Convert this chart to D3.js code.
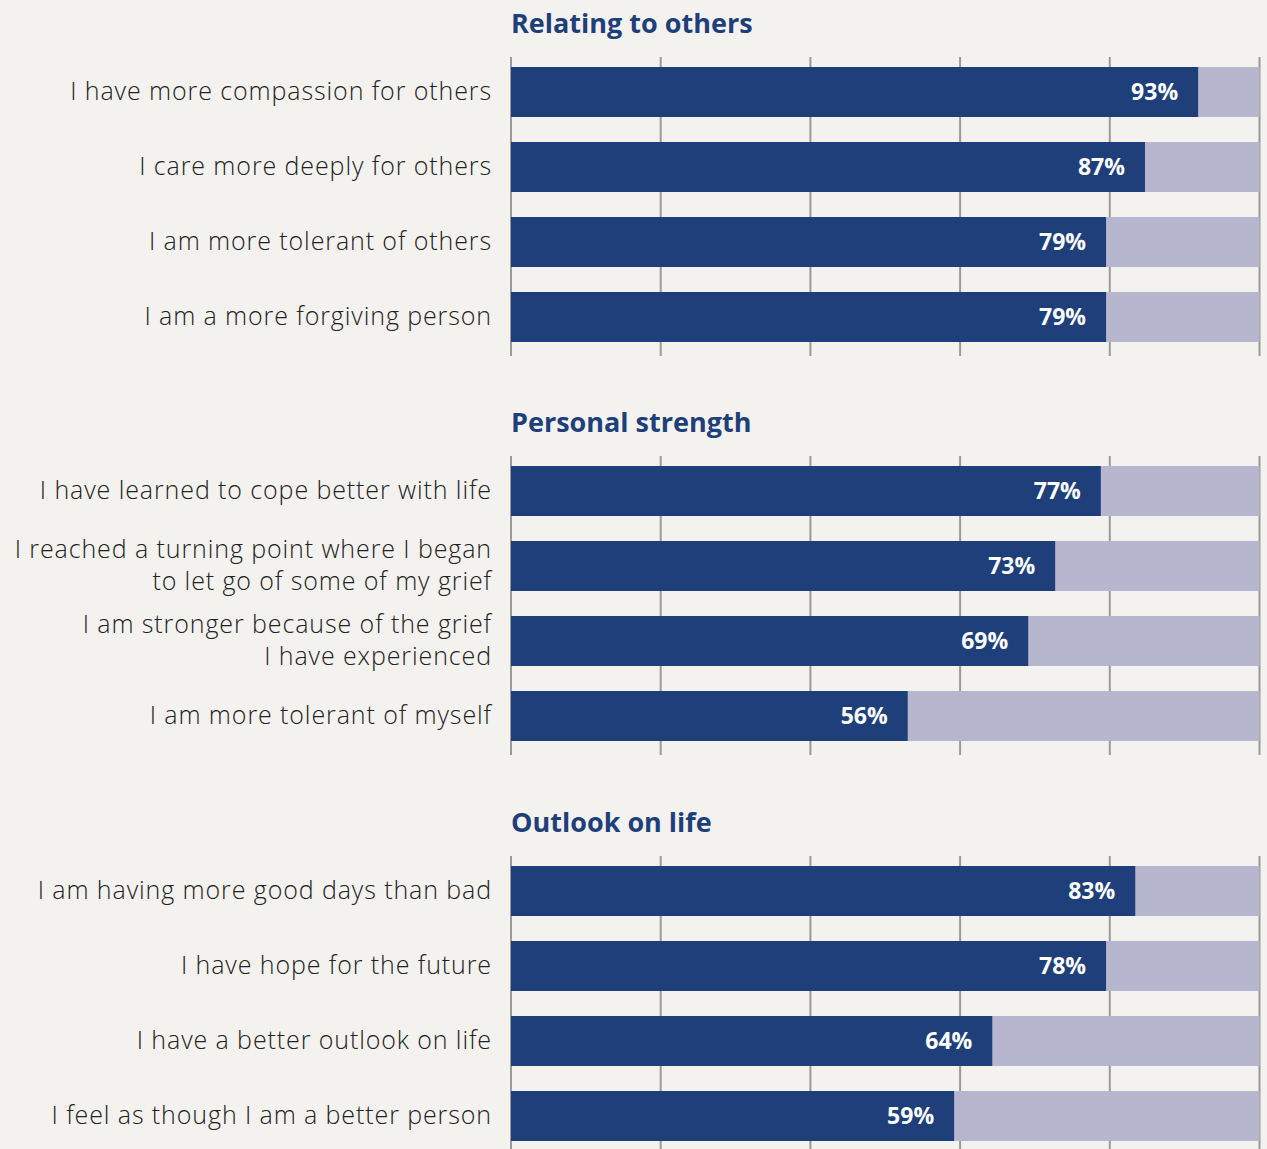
<!DOCTYPE html>
<html>
<head>
<meta charset="utf-8">
<script src="https://cdn.jsdelivr.net/npm/d3@7"></script>
<style>
  html, body { margin: 0; padding: 0; background: #f3f2ee; }
  svg { display: block; }
</style>
</head>
<body>
<svg id="chart" width="1267" height="1149"></svg>
<script>
// ---- data ----
const groupTitles = ["Relating to others", "Personal strength", "Outlook on life"];
const categoriesRelating = [
  ["I have more compassion for others"],
  ["I care more deeply for others"],
  ["I am more tolerant of others"],
  ["I am a more forgiving person"]
];
const categoriesStrength = [
  ["I have learned to cope better with life"],
  ["I reached a turning point where I began", "to let go of some of my grief"],
  ["I am stronger because of the grief", "I have experienced"],
  ["I am more tolerant of myself"]
];
const categoriesOutlook = [
  ["I am having more good days than bad"],
  ["I have hope for the future"],
  ["I have a better outlook on life"],
  ["I feel as though I am a better person"]
];
// printed labels
const labelsRelating = [93, 87, 79, 79];
const labelsStrength = [77, 73, 69, 56];
const labelsOutlook = [83, 78, 64, 59];
// bar lengths as drawn in the picture (percent of axis)
const barsRelating = [91.8, 84.7, 79.5, 79.5];
const barsStrength = [78.8, 72.7, 69.1, 53.0];
const barsOutlook = [83.4, 79.5, 64.3, 59.2];
const xTicks = [0, 20, 40, 60, 80, 100];

const groups = [
  { title: groupTitles[0], cats: categoriesRelating, labels: labelsRelating, bars: barsRelating },
  { title: groupTitles[1], cats: categoriesStrength, labels: labelsStrength, bars: barsStrength },
  { title: groupTitles[2], cats: categoriesOutlook, labels: labelsOutlook, bars: barsOutlook }
];

// ---- layout ----
const svg = d3.select("#chart");
const DARK = "#1e3f7a", LIGHT = "#b6b6cf", GRID = "#9a9a9a";
const x = d3.scaleLinear().domain([0, 100]).range([511, 1259.5]);
const panelOffsets = [0, 399, 799];
const labelFont = "'Open Sans', 'Noto Sans', sans-serif";

groups.forEach((g, gi) => {
  const off = panelOffsets[gi];
  const idx = d3.range(g.cats.length);
  const y = d3.scaleBand().domain(idx).range([67 + off, 342 + off]).paddingInner(1/3).paddingOuter(0);
  const panel = svg.append("g");

  // title
  panel.append("text")
    .attr("x", 511).attr("y", 33 + off)
    .attr("font-family", "'Open Sans', sans-serif")
    .attr("font-weight", 700).attr("font-size", 27)
    .attr("fill", DARK)
    .text(g.title);

  // gridlines
  const gTop = y(0) - 10, gBot = y(idx.length - 1) + y.bandwidth() + 14;
  panel.selectAll("line.grid").data(xTicks).enter().append("line")
    .attr("x1", d => x(d)).attr("x2", d => x(d))
    .attr("y1", gTop).attr("y2", gBot)
    .attr("stroke", GRID).attr("stroke-width", 2);

  // background bars (100%)
  panel.selectAll("rect.bg").data(idx).enter().append("rect")
    .attr("x", x(0)).attr("y", i => y(i))
    .attr("width", x(100) - x(0)).attr("height", y.bandwidth())
    .attr("fill", LIGHT);

  // value bars
  panel.selectAll("rect.val").data(idx).enter().append("rect")
    .attr("x", x(0)).attr("y", i => y(i))
    .attr("width", i => x(g.bars[i]) - x(0)).attr("height", y.bandwidth())
    .attr("fill", DARK);

  // value labels
  panel.selectAll("text.val").data(idx).enter().append("text")
    .attr("x", i => x(g.bars[i]) - 20)
    .attr("y", i => y(i) + y.bandwidth() / 2 + 8)
    .attr("text-anchor", "end")
    .attr("font-family", "'Open Sans', sans-serif")
    .attr("font-weight", 700).attr("font-size", 23)
    .attr("fill", "#ffffff")
    .text(i => g.labels[i] + "%");

  // category labels
  idx.forEach(i => {
    const lines = g.cats[i];
    const cy = y(i) + y.bandwidth() / 2;
    const t = panel.append("text")
      .attr("text-anchor", "end")
      .attr("font-family", labelFont)
      .attr("font-weight", 300).attr("font-size", 25)
      .attr("letter-spacing", 0.9)
      .attr("fill", "#222222");
    lines.forEach((ln, k) => {
      t.append("tspan")
        .attr("x", 492)
        .attr("y", cy + 7.5 + (k - (lines.length - 1) / 2) * 32)
        .text(ln);
    });
  });
});
</script>
</body>
</html>
